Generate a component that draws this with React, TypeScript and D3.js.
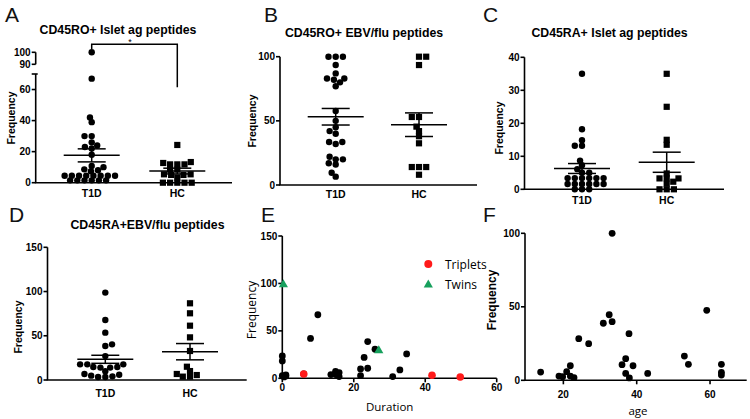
import React from "react";
import * as d3 from "d3";

// ---------- data ----------
const categories = ["T1D", "HC"];

const aT1D = [100, 67, 42, 39, 30, 30, 26, 24, 23, 22, 18, 10.8, 10, 8.6, 8, 7.4, 4.5, 4.5, 4.5, 4.5, 4.5, 4.5, 4.5, 4.5, 1.5, 1.5, 1.5, 1.5, 1.5, 1.5];
const aHC = [24.3, 13.3, 12.7, 11.8, 11.8, 11.8, 8.4, 8.4, 5.4, 5.4, 5, 5, 3.4, 0, 0, 0, 0, 0];
const meanA = [17.6, 7.5];
const semA = [4.2, 1.85];

const bT1D = [100, 100, 100, 93.5, 87, 83, 83, 82, 80, 77, 57.7, 50, 45, 42, 40, 33.5, 33.5, 32, 22, 20, 20, 17, 16, 9.6, 6.5];
const bHC = [100, 100, 93.5, 53, 53, 45.5, 42, 38, 32.5, 14, 14, 14, 8];
const meanB = [53.2, 47];
const semB = [6.45, 9.2];

const cT1D = [35, 18.2, 14.9, 13.2, 13.2, 8.7, 7.3, 6.1, 5, 5, 3.4, 3.4, 3.4, 3.4, 3.4, 3.4, 1.6, 1.6, 1.6, 1.6, 1.6, 1.6, 0, 0, 0];
const cHC = [35, 25, 15, 13.5, 4.8, 3.3, 3.3, 3.3, 2.3, 1.7, 0, 0, 0];
const meanC = [6.3, 8.2];
const semC = [1.5, 3.05];

const dT1D = [98.8, 67.9, 53.5, 40.3, 38.4, 27, 17.7, 17.7, 17.7, 14.7, 14.7, 14, 14, 10, 6.8, 6, 4.9, 4.1, 3.4, 3.4];
const dHC = [86.7, 75.4, 61.4, 48.2, 32.8, 15, 10.1, 6.8, 5.6, 3.8, 3.8];
const meanD = [23.4, 32];
const semD = [4.55, 9.2];

const eDuration = [0, 0, 0, 0.5, 1, 1, 6, 7.9, 9.95, 13.6, 14.9, 15, 15.9, 15.9, 21.9, 21.9, 22.9, 23.9, 23.9, 25.95, 30.9, 32.9, 34.8];
const eFreq = [23.6, 18.3, 2.8, 1.5, 3.5, 2.5, 4.6, 42, 67, 3.9, 7.4, 4, 6, 1.8, 9.9, 2.8, 22, 38.7, 10.6, 30.6, 1.8, 8.8, 25.7];
const tripletDuration = [6, 41.9, 49.8];
const tripletFreq = [4.6, 3.2, 1.4];
const twinDuration = [0.3, 27];
const twinFreq = [99.6, 30];
const legendLabels = ["Triplets", "Twins"];

const fAge = [13.8, 18.8, 19.8, 20.9, 21.9, 21.9, 22.9, 24.2, 26.9, 30.9, 32.5, 33.3, 33.3, 37.9, 36, 37, 37, 38, 39, 43, 53, 54.1, 59.1, 63.1, 63.1, 63.1];
const fFreq = [5.6, 2.9, 2.5, 5.9, 9.9, 2.9, 1.8, 28.3, 24.9, 38.8, 44.6, 100, 39.9, 31.7, 10.6, 14.7, 4.7, 1.6, 9.9, 4.7, 16.5, 10.9, 47.6, 10.9, 5.4, 3.6];

const ticksALower = [0, 20, 40, 60];
const ticksAUpper = [90, 100];
const ticksB = [0, 50, 100];
const ticksC = [0, 10, 20, 30, 40];
const ticksD = [0, 50, 100, 150];
const ticksEx = [0, 20, 40, 60];
const ticksEy = [0, 50, 100, 150];
const ticksFx = [20, 40, 60];
const ticksFy = [0, 50, 100];

// ---------- helpers ----------
const BOLD = "'Liberation Sans', Arial, sans-serif";
const LIGHT = "'Open Sans', 'Noto Sans', sans-serif";
const GREEN = "#17a05d";
const RED = "#ff1a1a";

// beeswarm with an elliptical exclusion zone (wide in x, shallow in y),
// so neighbouring rows can interleave as in GraphPad dot plots
function swarm(vals: number[], y: (v: number) => number, cx: number, ax: number, by: number) {
  const pts = vals.map((v) => ({ v, py: y(v), px: cx })).sort((a, b) => b.py - a.py);
  const placed: { px: number; py: number }[] = [];
  let flip = 1;
  for (const p of pts) {
    const ivs: [number, number][] = [];
    for (const q of placed) {
      const dy = q.py - p.py;
      if (Math.abs(dy) < by) {
        const h = ax * Math.sqrt(1 - (dy / by) ** 2);
        ivs.push([q.px - h, q.px + h]);
      }
    }
    const cands = [cx, ...ivs.flatMap((iv) => iv)];
    const ok = cands.filter((x) => !ivs.some(([a, b]) => x > a + 1e-6 && x < b - 1e-6));
    ok.sort((a, b) => {
      const d = Math.abs(a - cx) - Math.abs(b - cx);
      if (Math.abs(d) > 1e-6) return d;
      return flip * (b - a);
    });
    p.px = ok[0];
    flip = -flip;
    placed.push(p);
  }
  return pts;
}

function Marker({ shape, x, y, fill = "#000", r = 3.2 }: { shape: string; x: number; y: number; fill?: string; r?: number }) {
  if (shape === "square") return <rect x={x - 3.1} y={y - 3.1} width={6.2} height={6.2} fill={fill} />;
  if (shape === "tri") {
    const s = 4.6;
    return <path d={`M${x},${y - s}L${x + s},${y + s * 0.75}L${x - s},${y + s * 0.75}Z`} fill={fill} />;
  }
  return <circle cx={x} cy={y} r={r} fill={fill} />;
}

function YAxis({ x, scale, ticks, y0, y1, fs = 10 }: any) {
  return (
    <g>
      <line x1={x} x2={x} y1={y0} y2={y1} stroke="#000" strokeWidth={1.6} />
      {ticks.map((t: number) => (
        <g key={t}>
          <line x1={x - 4} x2={x} y1={scale(t)} y2={scale(t)} stroke="#000" strokeWidth={1.6} />
          <text x={x - 5} y={scale(t)} textAnchor="end" dominantBaseline="central" fontFamily={BOLD} fontWeight="bold" fontSize={fs}>
            {t}
          </text>
        </g>
      ))}
    </g>
  );
}

function DotPanel({ groups, centers, yScale, yTicks, x0, x1, mean, sem, labelY, yTop }: any) {
  const base = yScale(0);
  return (
    <g>
      {yTicks && <YAxis x={x0} scale={yScale} ticks={yTicks} y0={base} y1={yTop ?? yScale(yTicks[yTicks.length - 1])} />}
      <line x1={x0 - 0.8} x2={x1} y1={base} y2={base} stroke="#000" strokeWidth={1.6} />
      {groups.map((vals: number[], gi: number) => {
        const pts = swarm(vals, yScale, centers[gi], 7.2, 4.8);
        const shape = gi === 0 ? "circle" : "square";
        return (
          <g key={gi}>
            {pts.map((p, i) => (
              <Marker key={i} shape={shape} x={p.px} y={p.py} />
            ))}
          </g>
        );
      })}
      {centers.map((cx: number, gi: number) => {
        const m = yScale(mean[gi]);
        const hi = yScale(mean[gi] + sem[gi]);
        const lo = yScale(mean[gi] - sem[gi]);
        return (
          <g key={"m" + gi} stroke="#000" strokeWidth={1.5}>
            <line x1={cx - 28} x2={cx + 28} y1={m} y2={m} />
            <line x1={cx - 14} x2={cx + 14} y1={hi} y2={hi} />
            <line x1={cx - 14} x2={cx + 14} y1={lo} y2={lo} />
            <line x1={cx} x2={cx} y1={hi} y2={lo} />
          </g>
        );
      })}
      {centers.map((cx: number, gi: number) => (
        <text key={"c" + gi} x={cx} y={labelY} textAnchor="middle" fontFamily={BOLD} fontWeight="bold" fontSize={10.5}>
          {categories[gi]}
        </text>
      ))}
    </g>
  );
}

function Letter({ x, y, t }: any) {
  return (
    <text x={x} y={y} fontFamily={BOLD} fontSize={21} fill="#111">
      {t}
    </text>
  );
}

function Title({ x, y, t }: any) {
  return (
    <text x={x} y={y} textAnchor="middle" fontFamily={BOLD} fontWeight="bold" fontSize={12.3}>
      {t}
    </text>
  );
}

function YLabel({ x, y, bold = true, fs = 10.5 }: any) {
  return (
    <text
      transform={`translate(${x},${y}) rotate(-90)`}
      textAnchor="middle"
      dominantBaseline="central"
      fontFamily={bold ? BOLD : LIGHT}
      fontWeight={bold ? "bold" : "normal"}
      fontSize={fs}
    >
      Frequency
    </text>
  );
}

export default function App() {
  // Panel A (broken axis)
  const aLow = d3.scaleLinear().domain([0, 70]).range([182.7, 74]);
  const aUp = d3.scaleLinear().domain([90, 100]).range([64.3, 52.3]);
  const aScale = (v: number) => (v >= 80 ? aUp(v) : aLow(v));
  const aCenters = [91.7, 177.3];

  const bScale = d3.scaleLinear().domain([0, 100]).range([185, 56.7]);
  const cScale = d3.scaleLinear().domain([0, 40]).range([189.3, 57.3]);
  const dScale = d3.scaleLinear().domain([0, 150]).range([380, 247.3]);

  const eX = d3.scaleLinear().domain([0, 60]).range([282.3, 496.7]);
  const eY = d3.scaleLinear().domain([0, 150]).range([378.3, 236]);
  const fX = d3.scaleLinear().domain([10, 70]).range([526.7, 746.7]);
  const fY = d3.scaleLinear().domain([0, 100]).range([380.3, 233.3]);

  const axA = 35.7;

  return (
    <div style={{ position: "fixed", left: 0, top: 0 }}>
      <svg width={750} height={419} viewBox="0 0 750 419" style={{ display: "block", background: "#fff" }}>
        <rect width={750} height={419} fill="#fff" />

        {/* ---------- A ---------- */}
        <Letter x={5} y={22} t="A" />
        <Title x={118} y={34} t="CD45RO+ Islet ag peptides" />
        <YLabel x={11} y={118} />
        <g>
          <line x1={axA} x2={axA} y1={aLow(0)} y2={aLow(70)} stroke="#000" strokeWidth={1.6} />
          <line x1={axA - 4} x2={axA + 2} y1={aLow(70)} y2={aLow(70)} stroke="#000" strokeWidth={1.6} />
          {ticksALower.map((t) => (
            <g key={t}>
              <line x1={axA - 4} x2={axA} y1={aLow(t)} y2={aLow(t)} stroke="#000" strokeWidth={1.6} />
              <text x={axA - 5} y={aLow(t)} textAnchor="end" dominantBaseline="central" fontFamily={BOLD} fontWeight="bold" fontSize={10}>
                {t}
              </text>
            </g>
          ))}
          <line x1={axA} x2={axA} y1={aUp(90)} y2={aUp(100)} stroke="#000" strokeWidth={1.6} />
          {ticksAUpper.map((t) => (
            <g key={t}>
              <line x1={axA - 4} x2={axA} y1={aUp(t)} y2={aUp(t)} stroke="#000" strokeWidth={1.6} />
              <text x={axA - 5} y={aUp(t)} textAnchor="end" dominantBaseline="central" fontFamily={BOLD} fontWeight="bold" fontSize={10}>
                {t}
              </text>
            </g>
          ))}
        </g>
        <DotPanel groups={[aT1D, aHC]} centers={aCenters} yScale={aScale} yTicks={null} x0={axA} x1={232} mean={meanA} sem={semA} labelY={197} />
        <path d={`M${aCenters[0]},49 V44.3 H${aCenters[1]} V87.3`} fill="none" stroke="#000" strokeWidth={1.5} />
        <text x={130} y={45} textAnchor="middle" fontFamily={BOLD} fontSize={9}>
          *
        </text>

        {/* ---------- B ---------- */}
        <Letter x={264} y={22} t="B" />
        <Title x={364} y={37} t="CD45RO+ EBV/flu peptides" />
        <YLabel x={252} y={121} />
        <DotPanel groups={[bT1D, bHC]} centers={[335.7, 419]} yScale={bScale} yTicks={ticksB} x0={280} x1={477} mean={meanB} sem={semB} labelY={198} />

        {/* ---------- C ---------- */}
        <Letter x={483} y={22} t="C" />
        <Title x={609.5} y={37} t="CD45RA+ Islet ag peptides" />
        <YLabel x={499} y={128} />
        <DotPanel groups={[cT1D, cHC]} centers={[582, 666.7]} yScale={cScale} yTicks={ticksC} x0={524.5} x1={724} mean={meanC} sem={semC} labelY={204} />

        {/* ---------- D ---------- */}
        <Letter x={9} y={222} t="D" />
        <Title x={147.5} y={229} t="CD45RA+EBV/flu peptides" />
        <YLabel x={18} y={327} />
        <DotPanel groups={[dT1D, dHC]} centers={[105.3, 190]} yScale={dScale} yTicks={ticksD} x0={47.5} x1={246.7} mean={meanD} sem={semD} labelY={397} />

        {/* ---------- E ---------- */}
        <Letter x={261} y={222} t="E" />
        <YLabel x={251} y={310} bold={false} fs={12} />
        <YAxis x={eX(0)} scale={eY} ticks={ticksEy} y0={eY(0)} y1={eY(150)} />
        <line x1={eX(0)} x2={eX(60)} y1={eY(0)} y2={eY(0)} stroke="#000" strokeWidth={1.6} />
        {ticksEx.map((t) => (
          <g key={t}>
            <line x1={eX(t)} x2={eX(t)} y1={eY(0)} y2={eY(0) + 4} stroke="#000" strokeWidth={1.6} />
            <text x={eX(t)} y={391} textAnchor="middle" fontFamily={BOLD} fontWeight="bold" fontSize={10}>
              {t}
            </text>
          </g>
        ))}
        <text x={389.7} y={411} textAnchor="middle" fontFamily={LIGHT} fontSize={11.5}>
          Duration
        </text>
        {eDuration.map((d, i) => (
          <Marker key={"e" + i} shape="circle" x={eX(d)} y={eY(eFreq[i])} r={3.4} />
        ))}
        {twinDuration.map((d, i) => (
          <Marker key={"tw" + i} shape="tri" x={eX(d)} y={eY(twinFreq[i])} fill={GREEN} />
        ))}
        {tripletDuration.map((d, i) => (
          <Marker key={"tr" + i} shape="circle" x={eX(d)} y={eY(tripletFreq[i])} fill={RED} r={3.8} />
        ))}
        <Marker shape="circle" x={428.3} y={264} fill={RED} r={4} />
        <Marker shape="tri" x={428.3} y={284} fill={GREEN} />
        {legendLabels.map((l, i) => (
          <text key={l} x={445} y={264 + i * 20} dominantBaseline="central" fontFamily={LIGHT} fontSize={12}>
            {l}
          </text>
        ))}

        {/* ---------- F ---------- */}
        <Letter x={483} y={222} t="F" />
        <YLabel x={492} y={300} fs={12} />
        <YAxis x={525} scale={fY} ticks={ticksFy} y0={fY(0)} y1={fY(100)} />
        <line x1={525} x2={fX(70)} y1={fY(0)} y2={fY(0)} stroke="#000" strokeWidth={1.6} />
        {ticksFx.map((t) => (
          <g key={t}>
            <line x1={fX(t)} x2={fX(t)} y1={fY(0)} y2={fY(0) + 4} stroke="#000" strokeWidth={1.6} />
            <text x={fX(t)} y={398} textAnchor="middle" fontFamily={BOLD} fontWeight="bold" fontSize={10}>
              {t}
            </text>
          </g>
        ))}
        <text x={638} y={415} textAnchor="middle" fontFamily={LIGHT} fontSize={11.5}>
          age
        </text>
        {fAge.map((a, i) => (
          <Marker key={"f" + i} shape="circle" x={fX(a)} y={fY(fFreq[i])} r={3.4} />
        ))}
      </svg>
    </div>
  );
}
